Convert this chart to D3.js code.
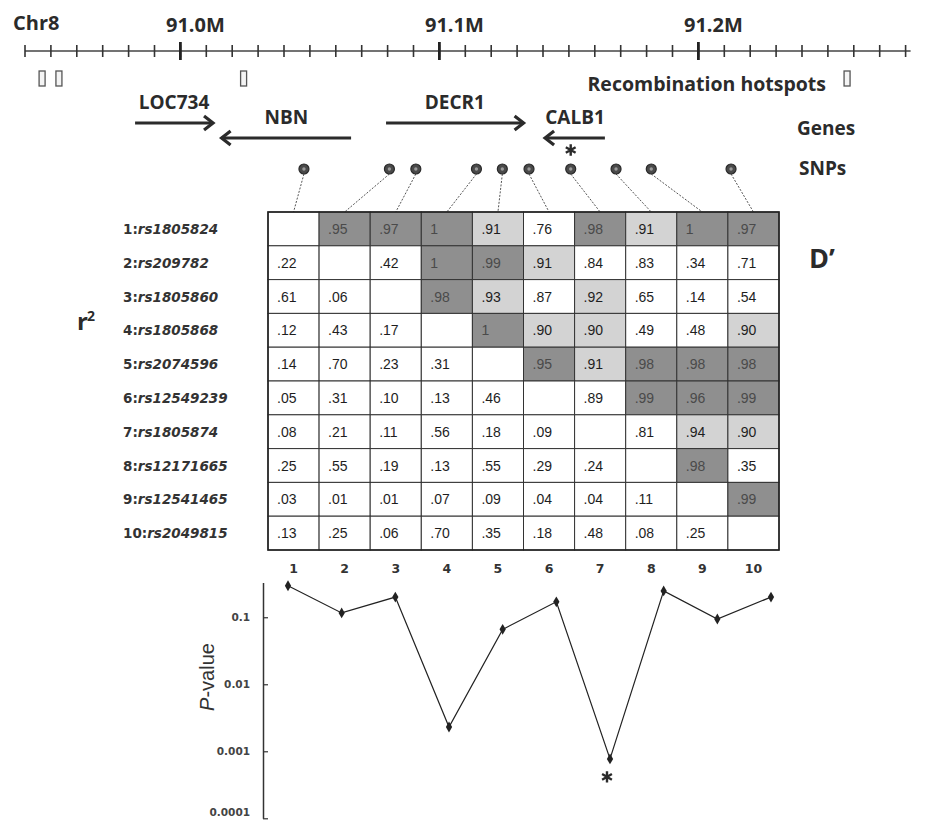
<!DOCTYPE html>
<html>
<head>
<meta charset="utf-8">
<script src="https://cdn.jsdelivr.net/npm/d3@7"></script>
<style>
  body { margin: 0; background: #fff; }
  svg { display: block; }
  .lbl { font-family: "Open Sans", sans-serif; font-weight: 700; fill: #2b2b2b; }
</style>
</head>
<body>
<svg id="chart" width="928" height="822"></svg>
<script>
'use strict';

// ---- values ----
var snpIds = ["rs1805824", "rs209782", "rs1805860", "rs1805868", "rs2074596",
              "rs12549239", "rs1805874", "rs12171665", "rs12541465", "rs2049815"];
var snpPosMb = [91.0477, 91.0807, 91.0909, 91.1143, 91.1243,
                91.1346, 91.1507, 91.1682, 91.1818, 91.2126];
var sigSnp = 6; // rs1805874, marked with *

// upper triangle = D', lower triangle = r^2
var ldMatrix = [
  [null, .95, .97, 1,   .91, .76, .98, .91, 1,   .97],
  [.22, null, .42, 1,   .99, .91, .84, .83, .34, .71],
  [.61, .06, null, .98, .93, .87, .92, .65, .14, .54],
  [.12, .43, .17, null, 1,   .90, .90, .49, .48, .90],
  [.14, .70, .23, .31, null, .95, .91, .98, .98, .98],
  [.05, .31, .10, .13, .46, null, .89, .99, .96, .99],
  [.08, .21, .11, .56, .18, .09, null, .81, .94, .90],
  [.25, .55, .19, .13, .55, .29, .24, null, .98, .35],
  [.03, .01, .01, .07, .09, .04, .04, .11, null, .99],
  [.13, .25, .06, .70, .35, .18, .48, .08, .25, null]
];

var pValues = [0.295, 0.116, 0.20, 0.0023, 0.066, 0.17, 0.00077, 0.247, 0.094, 0.20];
var pTickValues = [0.1, 0.01, 0.001, 0.0001];
var pTickLabels = ["0.1", "0.01", "0.001", "0.0001"];

var geneNames  = ["LOC734", "NBN", "DECR1", "CALB1"];
var geneStart  = [90.9825, 91.0159, 91.0794, 91.1408];
var geneEnd    = [91.0126, 91.0659, 91.1325, 91.1639];
var geneStrand = [1, -1, 1, -1];

var hotspotMb = [90.9466, 90.9531, 91.0244, 91.2574];

var rulerMajor = [91.0, 91.1, 91.2];
var rulerLabels = ["91.0M", "91.1M", "91.2M"];

// ---- setup ----
var svg = d3.select("#chart");
var ink = "#2b2b2b";

// genomic scale (Mb)
var x = d3.scaleLinear().domain([90.94, 91.28]).range([25, 905.6]);

// ruler
svg.append("text").attr("class", "lbl").attr("x", 13).attr("y", 30)
  .style("font-size", "20px").text("Chr8");

svg.append("line")
  .attr("x1", x(90.94)).attr("x2", x(91.28) + 5)
  .attr("y1", 51).attr("y2", 51)
  .attr("stroke", "#444").attr("stroke-width", 1.6);

var minor = d3.range(0, 35).map(function(i) { return 90.94 + i * 0.01; });
svg.selectAll(".rtick").data(minor).enter().append("line")
  .attr("class", "rtick")
  .attr("x1", function(d) { return x(d); }).attr("x2", function(d) { return x(d); })
  .attr("y1", 45).attr("y2", 57)
  .attr("stroke", "#333").attr("stroke-width", 1.6);

svg.selectAll(".rmajor").data(rulerMajor).enter().append("line")
  .attr("class", "rmajor")
  .attr("x1", function(d) { return x(d); }).attr("x2", function(d) { return x(d); })
  .attr("y1", 42).attr("y2", 60)
  .attr("stroke", "#222").attr("stroke-width", 2.8);

svg.selectAll(".rlabel").data(rulerMajor).enter().append("text")
  .attr("class", "lbl")
  .attr("x", function(d) { return x(d) + 15; }).attr("y", 32)
  .attr("text-anchor", "middle").style("font-size", "20px")
  .text(function(d, i) { return rulerLabels[i]; });

// recombination hotspots
svg.selectAll(".hot").data(hotspotMb).enter().append("rect")
  .attr("class", "hot")
  .attr("x", function(d) { return x(d) - 3; }).attr("y", 71)
  .attr("width", 6).attr("height", 15)
  .attr("fill", "#f4f4f4").attr("stroke", "#555").attr("stroke-width", 1.3);

svg.append("text").attr("class", "lbl").attr("x", 826).attr("y", 91)
  .attr("text-anchor", "end").style("font-size", "19.5px").text("Recombination hotspots");

// genes
var genes = geneNames.map(function(n, i) {
  return { name: n, s: geneStart[i], e: geneEnd[i], strand: geneStrand[i] };
});
var gy = function(g) { return g.strand > 0 ? 123 : 138; };

var gG = svg.selectAll(".gene").data(genes).enter().append("g").attr("class", "gene");
gG.append("line")
  .attr("x1", function(g) { return x(g.s); }).attr("x2", function(g) { return x(g.e); })
  .attr("y1", gy).attr("y2", gy)
  .attr("stroke", ink).attr("stroke-width", 3.2);
gG.append("path")
  .attr("d", function(g) {
    var tip = g.strand > 0 ? x(g.e) : x(g.s), y = gy(g), d = g.strand > 0 ? -9 : 9;
    return "M" + (tip + d) + "," + (y - 7) + "L" + tip + "," + y + "L" + (tip + d) + "," + (y + 7);
  })
  .attr("fill", "none").attr("stroke", ink).attr("stroke-width", 3.2);
gG.append("text").attr("class", "lbl")
  .attr("x", function(g) { return (x(g.s) + x(g.e)) / 2; })
  .attr("y", function(g) { return gy(g) - 14; })
  .attr("text-anchor", "middle").style("font-size", "19px")
  .text(function(g) { return g.name; });

svg.append("text").attr("class", "lbl").attr("x", 797).attr("y", 135)
  .style("font-size", "19px").text("Genes");

// star under CALB1 for the significant SNP
svg.append("path")
  .attr("d", d3.symbol(d3.symbolAsterisk, 90)())
  .attr("transform", "translate(" + x(snpPosMb[sigSnp]) + ",150)")
  .attr("fill", "none").attr("stroke", ink).attr("stroke-width", 2.4);

// ---- LD matrix ----
var n = snpIds.length;
var col = d3.scaleBand().domain(d3.range(n)).range([268, 779]);
var row = d3.scaleBand().domain(d3.range(n)).range([212, 550]);

// SNP markers and connectors
svg.append("text").attr("class", "lbl").attr("x", 799).attr("y", 175)
  .style("font-size", "19px").text("SNPs");

svg.selectAll(".conn").data(snpPosMb).enter().append("line")
  .attr("class", "conn")
  .attr("x1", function(d) { return x(d); }).attr("y1", 174)
  .attr("x2", function(d, i) { return col(i) + col.bandwidth() / 2; }).attr("y2", 212)
  .attr("stroke", "#555").attr("stroke-width", 1).attr("stroke-dasharray", "2,1.5");

svg.selectAll(".snp").data(snpPosMb).enter().append("circle")
  .attr("class", "snp")
  .attr("cx", function(d) { return x(d); }).attr("cy", 169).attr("r", 5)
  .attr("fill", "#4a4a4a").attr("stroke", "#2a2a2a").attr("stroke-width", 1.2);
svg.selectAll(".snpc").data(snpPosMb).enter().append("circle")
  .attr("class", "snpc")
  .attr("cx", function(d) { return x(d); }).attr("cy", 169).attr("r", 1.7)
  .attr("fill", "#9a9a9a");

var cells = [];
ldMatrix.forEach(function(r, i) {
  r.forEach(function(v, j) { cells.push({ i: i, j: j, v: v }); });
});

var shade = d3.scaleThreshold().domain([0.895, 0.945]).range(["#ffffff", "#d3d3d3", "#8f8f8f"]);
var fmt = function(v) { return v === 1 ? "1" : d3.format(".2f")(v).replace(/^0/, ""); };

svg.selectAll(".cell").data(cells).enter().append("rect")
  .attr("class", "cell")
  .attr("x", function(d) { return col(d.j); }).attr("y", function(d) { return row(d.i); })
  .attr("width", col.bandwidth()).attr("height", row.bandwidth())
  .attr("fill", function(d) { return (d.v !== null && d.j > d.i) ? shade(d.v) : "#fff"; })
  .attr("stroke", "#333").attr("stroke-width", 1);

svg.selectAll(".cellv").data(cells.filter(function(d) { return d.v !== null; })).enter().append("text")
  .attr("class", "cellv")
  .attr("x", function(d) { return col(d.j) + 9; })
  .attr("y", function(d) { return row(d.i) + row.bandwidth() / 2 + 5; })
  .style("font-family", "'Liberation Sans Narrow', sans-serif").style("font-size", "14px")
  .attr("fill", function(d) { return (d.j > d.i && d.v >= 0.945) ? "#4a4a4a" : "#1e1e1e"; })
  .text(function(d) { return fmt(d.v); });

svg.append("rect").attr("x", 268).attr("y", 212).attr("width", 511).attr("height", 338)
  .attr("fill", "none").attr("stroke", "#222").attr("stroke-width", 1.6);

// row labels
var rl = svg.selectAll(".rowl").data(snpIds).enter().append("text")
  .attr("class", "rowl")
  .attr("x", 123).attr("y", function(d, i) { return row(i) + row.bandwidth() / 2 + 5; })
  .style("font-family", "'DejaVu Sans', sans-serif").style("font-weight", "bold")
  .style("font-size", "13.5px").attr("fill", "#333");
rl.append("tspan").text(function(d, i) { return (i + 1) + ":"; });
rl.append("tspan").style("font-style", "italic").text(function(d) { return d; });

// column labels
svg.selectAll(".coll").data(snpIds).enter().append("text")
  .attr("class", "coll")
  .attr("x", function(d, i) { return col(i) + col.bandwidth() / 2; }).attr("y", 573)
  .attr("text-anchor", "middle")
  .style("font-family", "'DejaVu Sans', sans-serif").style("font-weight", "bold")
  .style("font-size", "12.5px").attr("fill", "#333")
  .text(function(d, i) { return i + 1; });

// r^2 and D'
svg.append("text").attr("class", "lbl").attr("x", 77).attr("y", 330)
  .style("font-size", "24px").text("r");
svg.append("text").attr("class", "lbl").attr("x", 87).attr("y", 321)
  .style("font-size", "14px").text("2");
svg.append("text").attr("class", "lbl").attr("x", 809).attr("y", 268)
  .style("font-size", "27px").text("D\u2019");

// ---- P-value plot ----
var xP = d3.scalePoint().domain(d3.range(n)).range([288, 771]);
var yP = d3.scaleLog().domain([1e-4, 0.33]).range([818.3, 582.5]);

var axisG = svg.append("g").attr("transform", "translate(263,0)")
  .call(d3.axisLeft(yP).tickValues(pTickValues)
    .tickFormat(function(d, i) { return pTickLabels[i]; })
    .tickSizeInner(-5).tickSizeOuter(0).tickPadding(13));
axisG.select(".domain").attr("stroke", "#333").attr("stroke-width", 1.5);
axisG.selectAll(".tick line").attr("stroke", "#333").attr("stroke-width", 1.2);
axisG.selectAll(".tick text")
  .style("font-family", "'DejaVu Sans', sans-serif").style("font-weight", "bold")
  .style("font-size", "10.5px").attr("fill", "#444")
  .attr("dy", function(d) { return d < 0.0005 ? "-0.25em" : "0.32em"; });

svg.append("text")
  .attr("transform", "translate(214,677) rotate(-90)")
  .attr("text-anchor", "middle")
  .style("font-family", "'Liberation Sans', Arial, sans-serif").style("font-size", "20px")
  .attr("fill", "#333")
  .call(function(t) {
    t.append("tspan").style("font-style", "italic").text("P");
    t.append("tspan").text("-value");
  });

var line = d3.line()
  .x(function(d, i) { return xP(i); })
  .y(function(d) { return yP(d); });

svg.append("path").datum(pValues)
  .attr("d", line).attr("fill", "none").attr("stroke", "#222").attr("stroke-width", 1.2);

svg.selectAll(".pt").data(pValues).enter().append("path")
  .attr("class", "pt")
  .attr("d", d3.symbol(d3.symbolDiamond, 34)())
  .attr("transform", function(d, i) { return "translate(" + xP(i) + "," + yP(d) + ")"; })
  .attr("fill", "#222");

svg.append("path")
  .attr("d", d3.symbol(d3.symbolAsterisk, 90)())
  .attr("transform", "translate(" + (xP(sigSnp) - 3) + "," + (yP(pValues[sigSnp]) + 18) + ")")
  .attr("fill", "none").attr("stroke", ink).attr("stroke-width", 2.4);
</script>
</body>
</html>
